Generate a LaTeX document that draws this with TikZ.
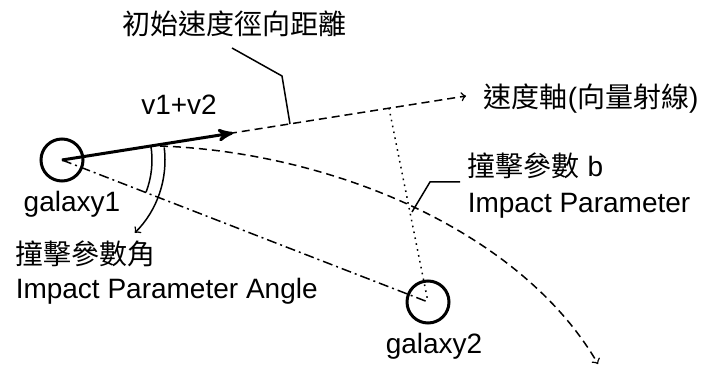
\documentclass[tikz,border=0pt]{standalone}
\usepackage{fontspec}
\setmainfont{Liberation Sans}
\newfontfamily\cjk{Noto Sans CJK TC}
\usetikzlibrary{arrows, calc, positioning}

\begin{document}
\begin{tikzpicture}[x=0.5pt, y=0.5pt, >=stealth', line width=0.75pt,
  every node/.style={inner sep=0pt, font=\fontsize{14}{17}\selectfont},
  galaxy/.style={circle, draw, line width=1.5pt, minimum size=21pt},
  axisline/.style={dash pattern=on 4pt off 2.5pt},
  joinline/.style={dash pattern=on 5pt off 2pt on 1pt off 2pt},
  perpline/.style={dash pattern=on 0.8pt off 2.2pt}]
\useasboundingbox (0,0) rectangle (716,364);
\node[galaxy] (g1) at (62,204) {};
\node[galaxy] (g2) at (428,62) {};
\coordinate (vtip) at (466,268);
\coordinate (vsum) at (233,231);
\coordinate (foot) at (389,256);
\coordinate (orbitStart) at (160,218);
\coordinate (orbitEnd) at (598,0);
\node[anchor=base] (g1Label) at (72,152) {galaxy1};
\node[anchor=base] (g2Label) at (434,11) {galaxy2};
\node[anchor=base] (vLabel) at (179,249) {v1+v2};
\node[anchor=base] (radLabel) at (234,329) {\cjk 初始速度徑向距離};
\node[anchor=base west] (axisLabel) at (483,256) {{\cjk 速度軸}({\cjk 向量射線})};
\node[anchor=base west] (bLabel) at (467,187) {{\cjk 撞擊參數} b};
\node[anchor=base west] (bLabelEn) at (467,151) {Impact Parameter};
\node[anchor=base west] (angLabel) at (15,99) {\cjk 撞擊參數角};
\node[anchor=base west] (angLabelEn) at (15,66) {Impact Parameter Angle};
\draw[axisline, -to] (g1.center) -- (vtip);
\draw[line width=1.5pt, ->] (g1.center) -- (vsum);
\draw[axisline, -to] (orbitStart) .. controls (330,212) and (520,134) .. (orbitEnd);
\draw[joinline] (g1.center) -- (g2.center);
\draw[perpline] (foot) -- (g2.center);
% leader lines
\coordinate (radFrom) at (232,316);
\coordinate (radBend) at (282,288);
\coordinate (radTo) at (290,240);
\draw (radFrom) -- (radBend) -- (radTo);
\coordinate (bFrom) at (460,182);
\coordinate (bBend) at (430,182);
\coordinate (bTo) at (412,152);
\draw (bFrom) -- (bBend) -- (bTo);
% angle arcs
\draw ($(g1.center)+(9:90)$) arc[start angle=9, end angle=-21, radius=90];
\draw[-to] ($(g1.center)+(7:103)$) arc[start angle=7, end angle=-45, radius=103];
\end{tikzpicture}
\end{document}
